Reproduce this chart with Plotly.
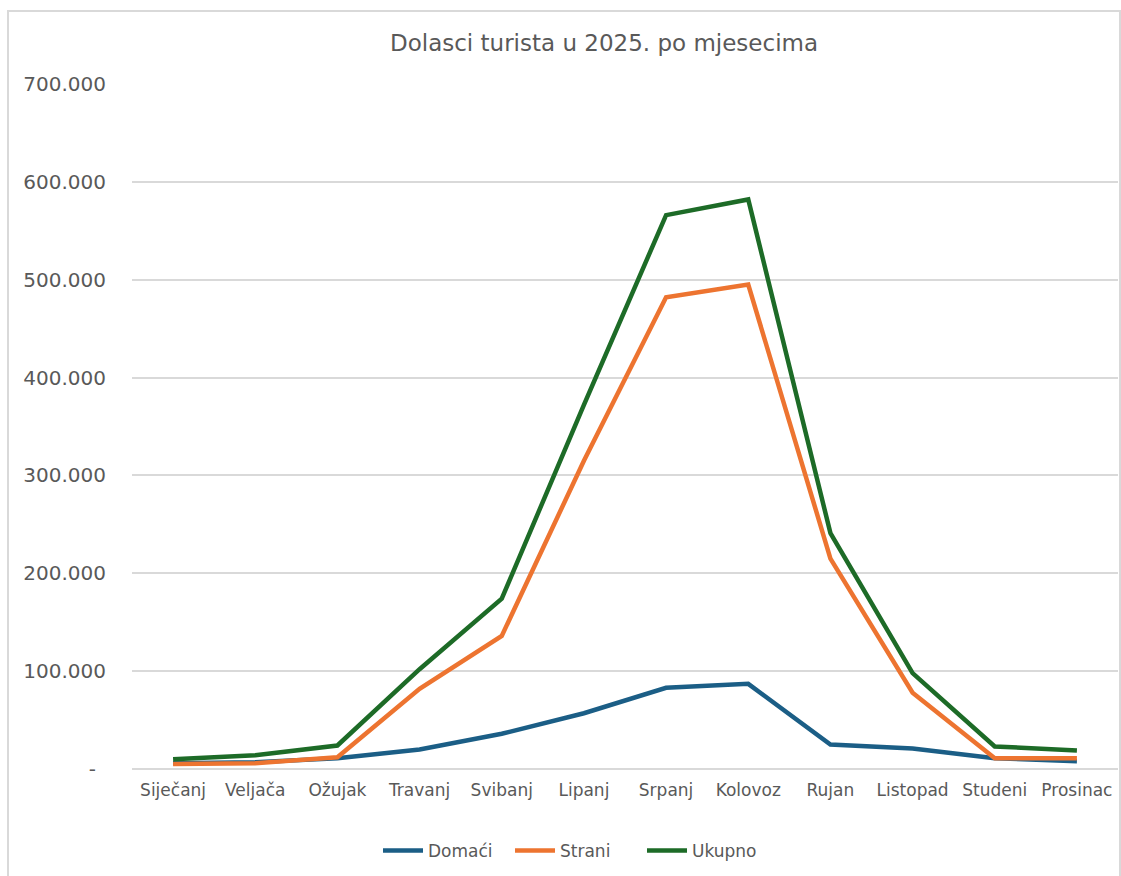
import plotly.graph_objects as go

months = ["Siječanj", "Veljača", "Ožujak", "Travanj", "Svibanj", "Lipanj",
          "Srpanj", "Kolovoz", "Rujan", "Listopad", "Studeni", "Prosinac"]
domaci = [6000, 7000, 11000, 20000, 36000, 57000, 83000, 87000, 25000, 21000, 11000, 8000]
strani = [5000, 6000, 12000, 82000, 136000, 315000, 482000, 495000, 215000, 78000, 11000, 11000]
ukupno = [10000, 14000, 24000, 102000, 174000, 372000, 566000, 582000, 241000, 98000, 23000, 19000]

tick_vals = [0, 100000, 200000, 300000, 400000, 500000, 600000, 700000]
tick_text = ["-\u2002", "100.000", "200.000", "300.000", "400.000",
             "500.000", "600.000", "700.000"]

FONT = "'DejaVu Sans', sans-serif"
GRAY = "#595959"

W, H = 1121, 876
L, R, T, B = 132, 3, 84, 107
PW, PH = W - L - R, H - T - B

fig = go.Figure()
series = [("Domaći", domaci, "#1b5e86"), ("Strani", strani, "#ed7430"), ("Ukupno", ukupno, "#1d6b27")]
for name, vals, col in series:
    fig.add_trace(go.Scatter(x=months, y=vals, name=name, mode="lines",
                             line=dict(color=col, width=4.5)))

fig.update_layout(
    width=W, height=H, autosize=False,
    margin=dict(l=L, r=R, t=T, b=B),
    paper_bgcolor="white", plot_bgcolor="white",
    font=dict(family=FONT, color=GRAY, size=17),
    title=dict(text="Dolasci turista u 2025. po mjesecima", x=604/W, xanchor="center",
               xref="container", y=1-43/H, yanchor="middle", yref="container",
               font=dict(size=23, color=GRAY, family=FONT)),
    showlegend=True,
    legend=dict(orientation="h", xref="container", x=576/W, xanchor="center",
                yref="container", y=1-851/H, yanchor="middle",
                font=dict(size=17, color=GRAY), itemwidth=40, entrywidth=77),
    xaxis=dict(type="category", range=[-0.5, 11.5], showgrid=False, showline=False, ticks="",
               tickfont=dict(size=17, color=GRAY), ticklabelstandoff=9),
    yaxis=dict(range=[0, 700000], tickvals=tick_vals, ticktext=tick_text,
               showgrid=True, gridcolor="#d9d9d9", gridwidth=1.5,
               zeroline=True, zerolinecolor="#d9d9d9", zerolinewidth=1.5,
               showline=False, ticks="", tickfont=dict(size=20, color=GRAY),
               ticklabelstandoff=25),
    shapes=[dict(type="rect", xref="paper", yref="paper",
                 x0=(8-L)/PW, x1=(1120-L)/PW,
                 y0=(H-B-890)/PH, y1=(H-B-11)/PH,
                 line=dict(color="#d9d9d9", width=2), fillcolor="rgba(0,0,0,0)",
                 layer="below")],
)

fig.write_html("out.html", config={"responsive": False, "displayModeBar": False},
               post_script="document.body.style.margin='0';document.body.style.overflow='hidden';")
